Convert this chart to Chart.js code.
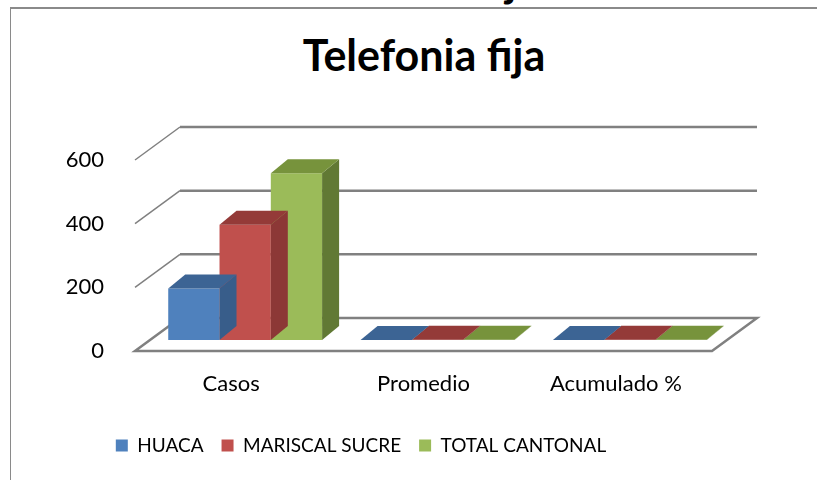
<!DOCTYPE html>
<html>
<head>
<meta charset="utf-8">
<script src="https://cdn.jsdelivr.net/npm/chart.js@4/dist/chart.umd.min.js"></script>
<style>
  body { margin: 0; background: #fff; }
  #wrap { position: relative; width: 817px; height: 480px; overflow: hidden; }
  #frame { position: absolute; left: 10px; top: 7px; width: 900px; height: 600px;
           border-left: 1px solid #8a8a8a; border-top: 2px solid #8a8a8a; }
  #caption { position: absolute; left: 0; width: 834px; top: -39px; text-align: center;
             font: bold 43px Lato; line-height: 40px; }
  #title { position: absolute; left: 0; width: 848px; top: 35px; text-align: center;
           font: bold 43px Lato; line-height: 40px; }
  canvas { position: absolute; left: 0; top: 0; }
</style>
</head>
<body>
<div id="wrap">
  <div id="frame"></div>
  <div id="caption">Telefonia fija</div>
  <div id="title">Telefonia fija</div>
  <canvas id="chart" width="817" height="480"></canvas>
</div>
<script>
// datos
const categories = ['Casos', 'Promedio', 'Acumulado %'];
const huaca = [162, 0.31, 0.31];
const mariscalSucre = [362, 0.69, 0.69];
const totalCantonal = [524, 1, 1];
const yTicks = [0, 200, 400, 600];

// desplazamientos de la perspectiva 3D
const wallX = 45, wallY = -33;
const barX = 14, barY = -11;
const sideX = 17, sideY = -14;

const threeD = {
  id: 'threeD',
  beforeDatasetsDraw(chart) {
    const { ctx, chartArea: a, scales: { y } } = chart;
    ctx.save();
    ctx.strokeStyle = '#808080';
    y.ticks.forEach(function (t) {
      const py = y.getPixelForValue(t.value);
      if (t.value > 0) {
        ctx.lineWidth = 2.5;
        ctx.beginPath();
        ctx.moveTo(a.left + wallX, py + wallY);
        ctx.lineTo(a.right + wallX, py + wallY);
        ctx.stroke();
        ctx.lineWidth = 1.5;
        ctx.beginPath();
        ctx.moveTo(a.left, py);
        ctx.lineTo(a.left + wallX, py + wallY);
        ctx.stroke();
      }
    });
    // piso
    const b = y.getPixelForValue(0);
    ctx.lineWidth = 2.5;
    ctx.fillStyle = '#fff';
    ctx.beginPath();
    ctx.moveTo(a.left, b);
    ctx.lineTo(a.right, b);
    ctx.lineTo(a.right + wallX, b + wallY);
    ctx.lineTo(a.left + wallX, b + wallY);
    ctx.closePath();
    ctx.fill();
    ctx.stroke();
    ctx.restore();
  },
  beforeDatasetDraw(chart) {
    chart.ctx.save();
    chart.ctx.translate(barX, barY);
  },
  afterDatasetDraw(chart, args) {
    const ctx = chart.ctx;
    const ds = chart.data.datasets[args.index];
    args.meta.data.forEach(function (bar) {
      const p = bar.getProps(['x', 'y', 'base', 'width'], true);
      const l = p.x - p.width / 2, r = p.x + p.width / 2;
      ctx.fillStyle = ds.sideColor;
      ctx.beginPath();
      ctx.moveTo(r, p.y);
      ctx.lineTo(r, p.base);
      ctx.lineTo(r + sideX, p.base + sideY);
      ctx.lineTo(r + sideX, p.y + sideY);
      ctx.closePath();
      ctx.fill();
      ctx.fillStyle = ds.topColor;
      ctx.beginPath();
      ctx.moveTo(l, p.y);
      ctx.lineTo(r, p.y);
      ctx.lineTo(r + sideX, p.y + sideY);
      ctx.lineTo(l + sideX, p.y + sideY);
      ctx.closePath();
      ctx.fill();
    });
    ctx.restore();
  }
};

new Chart(document.getElementById('chart').getContext('2d'), {
  type: 'bar',
  data: {
    labels: categories,
    datasets: [
      { label: 'HUACA', data: huaca, backgroundColor: '#4f81bd', topColor: '#3c6494', sideColor: '#385d8a' },
      { label: 'MARISCAL SUCRE', data: mariscalSucre, backgroundColor: '#c0504d', topColor: '#943a38', sideColor: '#8c3836' },
      { label: 'TOTAL CANTONAL', data: totalCantonal, backgroundColor: '#9bbb59', topColor: '#77933c', sideColor: '#617934' }
    ]
  },
  options: {
    responsive: false,
    animation: false,
    layout: { padding: { left: 10, right: 105, top: 160, bottom: 15 } },
    datasets: { bar: { categoryPercentage: 0.8, barPercentage: 1.0, borderWidth: 0 } },
    scales: {
      x: {
        grid: { display: false },
        border: { display: false },
        ticks: { color: '#000', font: { family: 'Lato', size: 22 }, padding: 12 },
        afterFit(scale) { scale.height = 67; }
      },
      y: {
        min: 0,
        max: 600,
        grid: { display: false },
        border: { display: false },
        afterBuildTicks(scale) { scale.ticks = yTicks.map(v => ({ value: v })); },
        ticks: { color: '#000', font: { family: 'Lato', size: 22 }, padding: 23 },
        afterFit(scale) { scale.width = 125; }
      }
    },
    plugins: {
      title: { display: false },
      tooltip: { enabled: false },
      legend: {
        position: 'bottom',
        labels: { color: '#000', font: { family: 'Lato', size: 19 }, boxWidth: 12, boxHeight: 12, padding: 18 }
      }
    }
  },
  plugins: [threeD]
});
</script>
</body>
</html>
